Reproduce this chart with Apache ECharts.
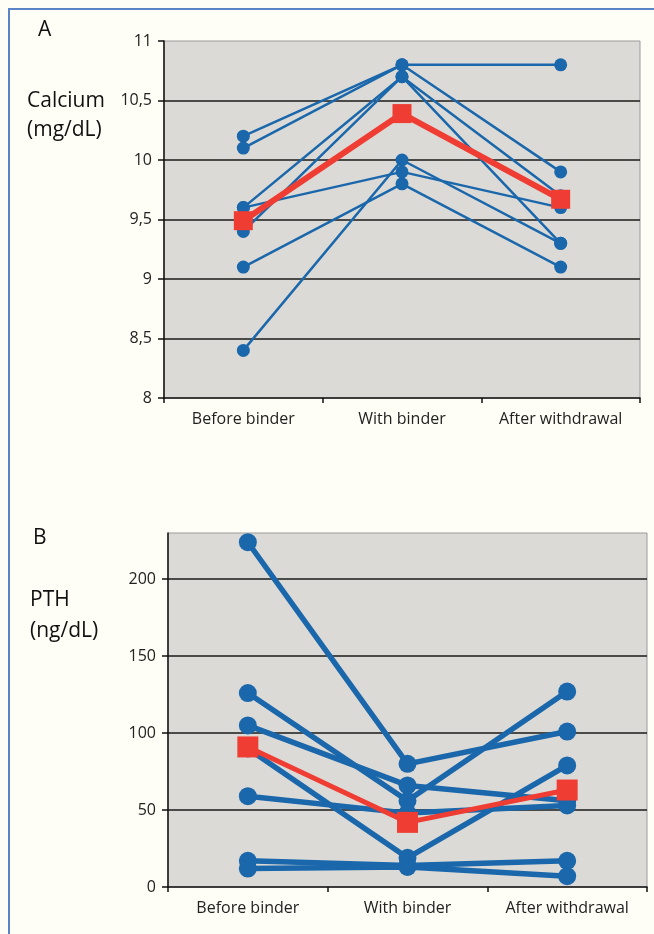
<!DOCTYPE html>
<html><head><meta charset="utf-8">
<script src="https://cdn.jsdelivr.net/npm/echarts@6/dist/echarts.min.js"></script>
<style>
html,body{margin:0;padding:0;background:#fffef6;}
#frame{position:absolute;left:8px;top:8px;width:646px;height:926px;border-left:2px solid #5b84c8;border-top:2px solid #5b84c8;box-sizing:border-box;}
#chart{position:absolute;left:0;top:0;width:654px;height:934px;}
</style></head><body>
<div id="frame"></div><div id="chart"></div>
<script>
const categories = ['Before binder', 'With binder', 'After withdrawal'];

// Panel A: calcium (mg/dL), one entry per patient
const caBefore = [10.2, 10.1, 9.6, 9.4, 9.6, 8.4, 9.1];
const caWith   = [10.8, 10.8, 10.7, 10.7, 9.9, 10.0, 9.8];
const caAfter  = [10.8, 9.9, 9.7, 9.3, 9.6, 9.3, 9.1];
const caMean   = [9.49, 10.39, 9.67];
const caTicks  = [8, 8.5, 9, 9.5, 10, 10.5, 11];

// Panel B: PTH (ng/dL), one entry per patient
const pthBefore = [224, 126, 105, 90, 59, 17, 12];
const pthWith   = [80, 56, 66, 19, 48, 14, 13];
const pthAfter  = [101, 127, 56, 79, 53, 17, 7];
const pthMean   = [91, 42, 63];
const pthTicks  = [0, 50, 100, 150, 200];

const BLUE = '#1a67ab';
const RED = '#ef3d33';
const FONT = 'Open Sans';
const TXT = '#222';

function patientSeries(b, w, a, idx, size, width) {
  return b.map((v, i) => ({
    type: 'line', xAxisIndex: idx, yAxisIndex: idx,
    data: [v, w[i], a[i]],
    symbol: 'circle', symbolSize: size,
    lineStyle: { color: BLUE, width: width },
    itemStyle: { color: BLUE },
    z: 2, silent: true
  }));
}
function meanSeries(m, idx, size, width) {
  return {
    type: 'line', xAxisIndex: idx, yAxisIndex: idx, data: m,
    symbol: 'rect', symbolSize: size,
    lineStyle: { color: RED, width: width },
    itemStyle: { color: RED },
    z: 4, silent: true
  };
}
const axisLineStyle = { color: '#111', width: 1.5 };
function xAxis(idx) {
  return {
    type: 'category', gridIndex: idx, data: categories,
    axisLine: { lineStyle: axisLineStyle },
    axisTick: { show: true, length: 5, lineStyle: axisLineStyle },
    axisLabel: { fontFamily: FONT, fontSize: 16, color: TXT, margin: 13, interval: 0 },
    splitLine: { show: false }
  };
}

const chart = echarts.init(document.getElementById('chart'), null, { renderer: 'canvas' });
chart.setOption({
  animation: false,
  backgroundColor: 'transparent',
  grid: [
    { left: 164, right: 14, top: 41, height: 357, show: true, backgroundColor: '#dcdad6', borderColor: '#9a9a9a', borderWidth: 1 },
    { left: 168, right: 7, top: 533, height: 354, show: true, backgroundColor: '#dcdad6', borderColor: '#9a9a9a', borderWidth: 1 }
  ],
  xAxis: [xAxis(0), xAxis(1)],
  yAxis: [
    {
      type: 'value', gridIndex: 0, min: caTicks[0], max: caTicks[caTicks.length - 1], interval: 0.5,
      axisLine: { show: true, lineStyle: axisLineStyle },
      axisTick: { show: true, length: 6, lineStyle: axisLineStyle },
      axisLabel: { fontFamily: FONT, fontSize: 16, color: TXT, margin: 12,
        formatter: v => String(v).replace('.', ',') },
      splitLine: { show: true, showMinLine: false, showMaxLine: false, lineStyle: { color: '#1a1a1a', width: 1.5 } }
    },
    {
      type: 'value', gridIndex: 1, min: 0, max: 230, interval: 50,
      axisLine: { show: true, lineStyle: axisLineStyle },
      axisTick: { show: true, length: 6, lineStyle: axisLineStyle, customValues: pthTicks },
      axisLabel: { fontFamily: FONT, fontSize: 16, color: TXT, margin: 12, customValues: pthTicks },
      splitLine: { show: true, showMinLine: false, lineStyle: { color: '#1a1a1a', width: 1.5 } }
    }
  ],
  graphic: [
    { type: 'text', left: 38, top: 20, style: { text: 'A', font: '21px "Open Sans"', fill: '#111' } },
    { type: 'text', left: 27, top: 91, style: { text: 'Calcium', font: '21px "Open Sans"', fill: '#111' } },
    { type: 'text', left: 27, top: 120, style: { text: '(mg/dL)', font: '21px "Open Sans"', fill: '#111' } },
    { type: 'text', left: 33, top: 528, style: { text: 'B', font: '21px "Open Sans"', fill: '#111' } },
    { type: 'text', left: 30, top: 590, style: { text: 'PTH', font: '21px "Open Sans"', fill: '#111' } },
    { type: 'text', left: 30, top: 621, style: { text: '(ng/dL)', font: '21px "Open Sans"', fill: '#111' } }
  ],
  series: [
    ...patientSeries(caBefore, caWith, caAfter, 0, 13, 2.5),
    meanSeries(caMean, 0, 19, 6),
    ...patientSeries(pthBefore, pthWith, pthAfter, 1, 18, 5.5),
    meanSeries(pthMean, 1, 21, 5)
  ]
});
</script>
</body></html>
